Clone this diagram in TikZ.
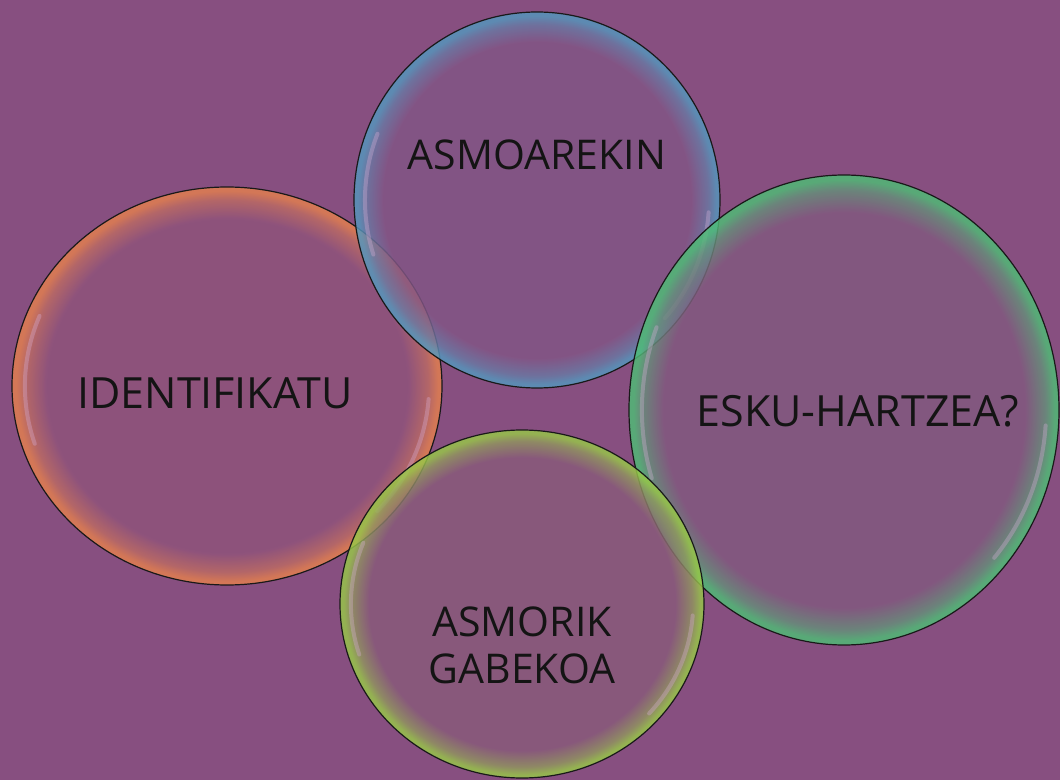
\documentclass[tikz,border=0pt]{standalone}
\usepackage{fontspec}
\setmainfont{Open Sans}
\usepackage{tikz}
\usetikzlibrary{shapes.geometric,positioning}
\definecolor{bgpurple}{RGB}{135,79,128}
\definecolor{ringorange}{RGB}{228,128,78}
\definecolor{ringblue}{RGB}{84,152,190}
\definecolor{ringgreen}{RGB}{78,190,118}
\definecolor{ringlime}{RGB}{152,200,72}
\definecolor{hipink}{RGB}{215,175,215}
\colorlet{bubring}{ringorange}
\colorlet{bubin}{bgpurple}
\pgfdeclareradialshading[bubring,bubin]{bubble}{\pgfpoint{0bp}{0bp}}{%
  color(0bp)=(bubin); color(21bp)=(bubin); color(23.4bp)=(bubring!55!bubin);
  color(24.5bp)=(bubring); color(25bp)=(bubring); color(50bp)=(bubring)}

\begin{document}
\begin{tikzpicture}[
  x=1pt,y=1pt,
  bubhi/.style={hipink,line width=4pt,line cap=round,opacity=0.35},
  bubble/.style n args={3}{ellipse,draw=black!90,line width=1.2pt,
    minimum width=2*#2,minimum height=2*#3,inner sep=0pt,
    /utils/exec={\colorlet{bubring}{#1}\colorlet{bubin}{#1!9!bgpurple}},
    shading=bubble,fill opacity=0.82,
    path picture={
      \draw[bubhi] (path picture bounding box.center)
        ++({0.94*#2*cos(158)},{0.94*#3*sin(158)})
        arc[start angle=158,end angle=198,x radius=0.94*#2,y radius=0.94*#3];
      \draw[bubhi] (path picture bounding box.center)
        ++({0.94*#2*cos(-42)},{0.94*#3*sin(-42)})
        arc[start angle=-42,end angle=-4,x radius=0.94*#2,y radius=0.94*#3];
    }},
  lbl/.style={font=\fontsize{41}{47}\selectfont,text=black!92,align=center},
]
  % background
  \fill[bgpurple] (0,0) rectangle (1060,780);

  % bubbles
  \node[bubble={ringorange}{215}{199}] (ident) at (227,394) {};
  \node[bubble={ringblue}{183}{188}] (asmo) at (537,580) {};
  \node[bubble={ringgreen}{215}{235}] (esku) at (844,370) {};
  \node[bubble={ringlime}{182}{174}] (gabe) at (522,176) {};

  % texts
  \node[lbl,font=\fontsize{43}{47}\selectfont] (identtxt) at ([xshift=-12,yshift=-7]ident.center) {IDENTIFIKATU};
  \node[lbl] (asmotxt) at ([yshift=45]asmo.center) {ASMOAREKIN};
  \node[lbl,font=\fontsize{43}{47}\selectfont] (eskutxt) at ([xshift=14,yshift=-1]esku.center) {ESKU-HARTZEA?};
  \node[lbl] (gabetxt) at ([yshift=-41]gabe.center) {ASMORIK\\GABEKOA};
\end{tikzpicture}
\end{document}
